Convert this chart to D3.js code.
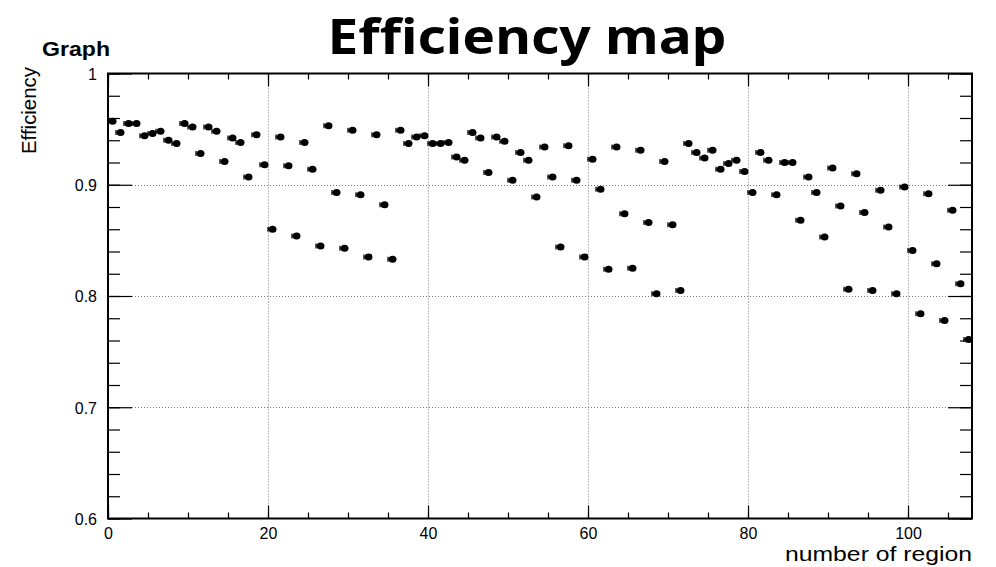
<!DOCTYPE html>
<html>
<head>
<meta charset="utf-8">
<script src="https://cdn.jsdelivr.net/npm/d3@7"></script>
<style>
  html, body { margin: 0; padding: 0; background: #fff; }
  svg { display: block; }
</style>
</head>
<body>
<svg id="chart" width="996" height="567"></svg>
<script>
// Efficiency per region (one point per region bin)
const efficiency = [
  0.957, 0.947, 0.955, 0.955, 0.944, 0.946, 0.948, 0.940, 0.937, 0.955,
  0.952, 0.928, 0.952, 0.948, 0.921, 0.942, 0.938, 0.907, 0.945, 0.918,
  0.860, 0.943, 0.917, 0.854, 0.938, 0.914, 0.845, 0.953, 0.893, 0.843,
  0.949, 0.891, 0.835, 0.945, 0.882, 0.833, 0.949, 0.937, 0.943, 0.944,
  0.937, 0.937, 0.938, 0.925, 0.922, 0.947, 0.942, 0.911, 0.943, 0.939,
  0.904, 0.929, 0.922, 0.889, 0.934, 0.907, 0.844, 0.935, 0.904, 0.835,
  0.923, 0.896, 0.824, 0.934, 0.874, 0.825, 0.931, 0.866, 0.802, 0.921,
  0.864, 0.805, 0.937, 0.929, 0.924, 0.931, 0.914, 0.919, 0.922, 0.912,
  0.893, 0.929, 0.922, 0.891, 0.920, 0.920, 0.868, 0.907, 0.893, 0.853,
  0.915, 0.881, 0.806, 0.910, 0.875, 0.805, 0.895, 0.862, 0.802, 0.898,
  0.841, 0.784, 0.892, 0.829, 0.778, 0.877, 0.811, 0.761
];
// Region bin centres and half widths (x error)
const regionCenter = efficiency.map((_, i) => i + 0.5);
const regionHalfWidth = efficiency.map(() => 0.5);

const xDomain = [0, 108];
const yDomain = [0.6, 1.0];
const xMajorTicks = [0, 20, 40, 60, 80, 100];
const xMinorTicks = [0, 5, 10, 15, 20, 25, 30, 35, 40, 45, 50, 55, 60, 65, 70, 75, 80, 85, 90, 95, 100, 105];
const yMajorTicks = [0.6, 0.7, 0.8, 0.9, 1.0];
const yMinorTicks = [0.6, 0.62, 0.64, 0.66, 0.68, 0.7, 0.72, 0.74, 0.76, 0.78, 0.8, 0.82, 0.84, 0.86, 0.88, 0.9, 0.92, 0.94, 0.96, 0.98, 1.0];
const xGrid = [20, 40, 60, 80, 100];
const yGrid = [0.7, 0.8, 0.9];

const titleText = "Efficiency map";
const graphName = "Graph";
const xTitle = "number of region";
const yTitle = "Efficiency";

const svg = d3.select("#chart");
const frame = { left: 108, right: 972, top: 73.5, bottom: 518.5 };

const x = d3.scaleLinear().domain(xDomain).range([frame.left, frame.right]);
const y = d3.scaleLinear().domain(yDomain).range([frame.bottom, frame.top]);

const labelFont = "'Liberation Sans', Arial, Helvetica, sans-serif";

// Dotted grid
const grid = svg.append("g").attr("stroke", "#7a7a7a").attr("stroke-width", 1)
  .attr("stroke-dasharray", "1,2");
grid.selectAll("line.gx").data(xGrid).join("line")
  .attr("x1", d => Math.round(x(d)) + 0.5).attr("x2", d => Math.round(x(d)) + 0.5)
  .attr("y1", frame.top).attr("y2", frame.bottom);
grid.selectAll("line.gy").data(yGrid).join("line")
  .attr("y1", d => Math.round(y(d)) + 0.5).attr("y2", d => Math.round(y(d)) + 0.5)
  .attr("x1", frame.left).attr("x2", frame.right);

// Axes with inward ticks on all four sides
function tickAxis(axisFn, scale, ticks, size, transform, labels) {
  const ax = axisFn(scale).tickValues(ticks).tickSizeInner(-size).tickSizeOuter(0)
    .tickFormat(labels ? d3.format("") : "");
  const g = svg.append("g").attr("transform", transform).call(ax);
  g.select(".domain").remove();
  g.selectAll(".tick line").attr("stroke", "#000").attr("stroke-width", 1.2);
  return g;
}

tickAxis(d3.axisBottom, x, xMinorTicks, 6, `translate(0,${frame.bottom})`, false);
const xAx = tickAxis(d3.axisBottom, x, xMajorTicks, 13, `translate(0,${frame.bottom})`, true);
xAx.selectAll(".tick text").attr("font-family", labelFont).attr("font-size", 16)
  .attr("fill", "#000").attr("y", 9).attr("dy", "0.71em");
tickAxis(d3.axisTop, x, xMinorTicks, 6, `translate(0,${frame.top})`, false);
tickAxis(d3.axisTop, x, xMajorTicks, 13, `translate(0,${frame.top})`, false);

tickAxis(d3.axisLeft, y, yMinorTicks, 12, `translate(${frame.left},0)`, false);
const yAx = tickAxis(d3.axisLeft, y, yMajorTicks, 24, `translate(${frame.left},0)`, false);
yAx.selectAll(".tick text").remove();
yAx.selectAll(".tick").append("text")
  .attr("x", -11).attr("dy", "0.36em").attr("text-anchor", "end")
  .attr("font-family", labelFont).attr("font-size", 16).attr("fill", "#000")
  .text(d => d3.format("")(+d.toFixed(1)));
tickAxis(d3.axisRight, y, yMinorTicks, 12, `translate(${frame.right},0)`, false);
tickAxis(d3.axisRight, y, yMajorTicks, 24, `translate(${frame.right},0)`, false);

// Frame
svg.append("rect")
  .attr("x", frame.left).attr("y", frame.top)
  .attr("width", frame.right - frame.left).attr("height", frame.bottom - frame.top)
  .attr("fill", "none").attr("stroke", "#000").attr("stroke-width", 2);

// Data points with horizontal error bars
const pts = svg.append("g");
const points = efficiency.map((v, i) => ({ x: regionCenter[i], ex: regionHalfWidth[i], y: v }));
const pg = pts.selectAll("g").data(points).join("g");
pg.append("line")
  .attr("x1", d => x(d.x - d.ex)).attr("x2", d => x(d.x + d.ex))
  .attr("y1", d => y(d.y)).attr("y2", d => y(d.y))
  .attr("stroke", "#000").attr("stroke-width", 1.3);
pg.append("line")
  .attr("x1", d => x(d.x - d.ex)).attr("x2", d => x(d.x - d.ex))
  .attr("y1", d => y(d.y) - 2.5).attr("y2", d => y(d.y) + 2.5)
  .attr("stroke", "#000").attr("stroke-width", 1.3);
pg.append("ellipse")
  .attr("cx", d => x(d.x) + 0.6).attr("cy", d => y(d.y))
  .attr("rx", 3.9).attr("ry", 3.5).attr("fill", "#000");

// Titles
svg.append("text")
  .attr("x", 527).attr("y", 54).attr("text-anchor", "middle")
  .attr("font-family", "'Noto Sans', 'Open Sans', sans-serif")
  .attr("font-weight", "bold").attr("font-size", 48)
  .style("font-variant-ligatures", "none")
  .attr("textLength", 399).attr("lengthAdjust", "spacingAndGlyphs")
  .attr("fill", "#000").text(titleText);

svg.append("text")
  .attr("x", 42).attr("y", 56).attr("font-family", labelFont)
  .attr("font-weight", "bold").attr("font-size", 20)
  .attr("textLength", 68).attr("lengthAdjust", "spacingAndGlyphs")
  .attr("fill", "#000").text(graphName);

svg.append("text")
  .attr("x", 972).attr("y", 561).attr("text-anchor", "end")
  .attr("font-family", labelFont).attr("font-size", 20)
  .attr("textLength", 187).attr("lengthAdjust", "spacingAndGlyphs")
  .attr("fill", "#000").text(xTitle);

svg.append("text")
  .attr("transform", "translate(36,67) rotate(-90)")
  .attr("text-anchor", "end")
  .attr("font-family", labelFont).attr("font-size", 20)
  .attr("textLength", 87).attr("lengthAdjust", "spacingAndGlyphs")
  .attr("fill", "#000").text(yTitle);
</script>
</body>
</html>
